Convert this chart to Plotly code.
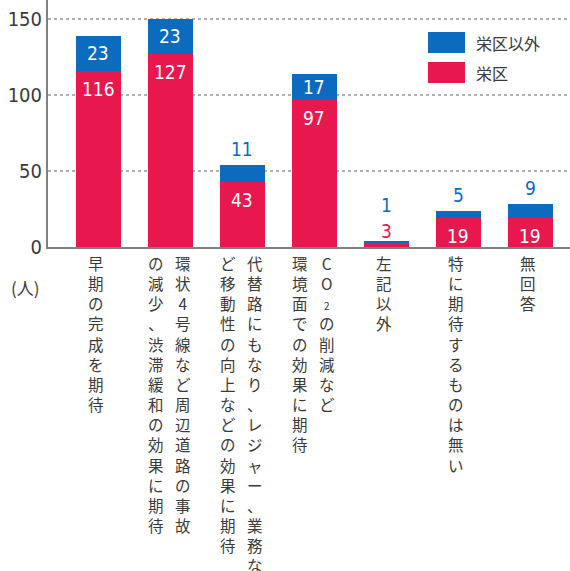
import plotly.graph_objects as go

# ---- data ----
categories = ["早期の完成を期待", "周辺道路の事故減少・渋滞緩和", "代替路・移動性の向上",
              "CO2の削減など環境面", "左記以外", "特に期待するものは無い", "無回答"]
sakae = [116, 127, 43, 97, 3, 19, 19]          # 栄区
other = [23, 23, 11, 17, 1, 5, 9]               # 栄区以外
# vertical label columns (right column first, as read)
label_columns = [
    ["早期の完成を期待"],
    ["環状4号線など周辺道路の事故", "の減少、渋滞緩和の効果に期待"],
    ["代替路にもなり、レジャー、業務な", "ど移動性の向上などの効果に期待"],
    ["CO2の削減など", "環境面での効果に期待"],
    ["左記以外"],
    ["特に期待するものは無い"],
    ["無回答"],
]
y_ticks = [0, 50, 100, 150]
series_names = ["栄区以外", "栄区"]
unit_label = "(人)"

RED = "#e8184f"
BLUE = "#0b6cbf"
GRAY_TXT = "#3a3a3a"
NUM_FONT = "DejaVu Sans Condensed, Liberation Sans Narrow, Arial Narrow, sans-serif"
JP_FONT = "Noto Sans CJK JP, Noto Sans CJK SC, sans-serif"

x = list(range(len(categories)))

fig = go.Figure()
fig.add_trace(go.Bar(x=x, y=sakae, name=series_names[1], marker=dict(color=RED, line=dict(width=0)),
                     width=0.625, showlegend=False, hoverinfo="skip"))
fig.add_trace(go.Bar(x=x, y=other, name=series_names[0], marker=dict(color=BLUE, line=dict(width=0)),
                     width=0.625, showlegend=False, hoverinfo="skip"))

ann = []
# value labels
for i in x:
    r, b = sakae[i], other[i]
    # red segment label
    if r >= 15:
        ann.append(dict(x=i, y=r, xref="x", yref="y", text=str(r), showarrow=False,
                        yanchor="top", yshift=-5, font=dict(color="white", size=19, family=NUM_FONT)))
    else:
        ann.append(dict(x=i, y=r, xref="x", yref="y", text=str(r), showarrow=False,
                        yanchor="middle", yshift=11, font=dict(color=RED, size=19, family=NUM_FONT)))
    # blue segment label
    if b >= 15:
        ann.append(dict(x=i, y=r + b / 2, xref="x", yref="y", text=str(b), showarrow=False,
                        yanchor="middle", font=dict(color="white", size=19, family=NUM_FONT)))
    else:
        extra = 20 if r < 15 else 0
        ann.append(dict(x=i, y=r + b, xref="x", yref="y", text=str(b), showarrow=False,
                        yanchor="bottom", yshift=3 + extra, font=dict(color=BLUE, size=19, family=NUM_FONT)))

# category labels (vertical, stacked characters)
def vert(s):
    chars = []
    for ch in s:
        if ch == "2" and chars and chars[-1] == "O":
            chars.append("<span style='font-size:10px'>2</span>")
        else:
            chars.append(ch)
    return "<br>".join(chars)

for i, cols in enumerate(label_columns):
    if len(cols) == 1:
        offs = [-2]
    else:
        offs = [13, -14]
    for col, off in zip(cols, offs):
        ann.append(dict(x=i, y=0, xref="x", yref="paper", text=vert(col), showarrow=False,
                        xanchor="center", yanchor="top", xshift=off, yshift=-3, align="center",
                        font=dict(color=GRAY_TXT, size=15.5, family=JP_FONT)))

# legend (boxes + text) and unit label, placed in pixel terms of the plot area
PL, PW, PT, PH = 48, 522, 0, 247
def px(xp): return (xp - PL) / PW
def py(yp): return (PT + PH - yp) / PH

ann.append(dict(x=px(9), y=py(287), xref="paper", yref="paper", text=unit_label, showarrow=False,
                xanchor="left", yanchor="middle", font=dict(color=GRAY_TXT, size=17, family=JP_FONT)))

shapes = []
for (y0, y1), col, name in [((32, 53), BLUE, series_names[0]), ((62, 83), RED, series_names[1])]:
    shapes.append(dict(type="rect", xref="paper", yref="paper", x0=px(428), x1=px(465),
                       y0=py(y1), y1=py(y0), fillcolor=col, line=dict(width=0)))
    ann.append(dict(x=px(474), y=py((y0 + y1) / 2), xref="paper", yref="paper", text=name,
                    showarrow=False, xanchor="left", yanchor="middle",
                    font=dict(color=GRAY_TXT, size=16, family=JP_FONT)))

fig.update_layout(
    width=570, height=571,
    margin=dict(l=48, r=0, t=0, b=324),
    barmode="stack",
    plot_bgcolor="white", paper_bgcolor="white",
    annotations=ann, shapes=shapes,
    xaxis=dict(range=[-0.7, 6.55], showticklabels=False, showgrid=False, zeroline=False,
               showline=True, linecolor="#808080", linewidth=2, fixedrange=True),
    yaxis=dict(range=[0, 162.5], tickvals=y_ticks, showgrid=True, gridcolor="#b0b0b0",
               griddash="dot", gridwidth=1.5, zeroline=False, showline=True,
               linecolor="#808080", linewidth=2, ticks="",
               tickfont=dict(color=GRAY_TXT, size=20, family=NUM_FONT)),
)

fig.write_html("out.html", config={"displayModeBar": False},
               post_script="document.body.style.margin='0';")
